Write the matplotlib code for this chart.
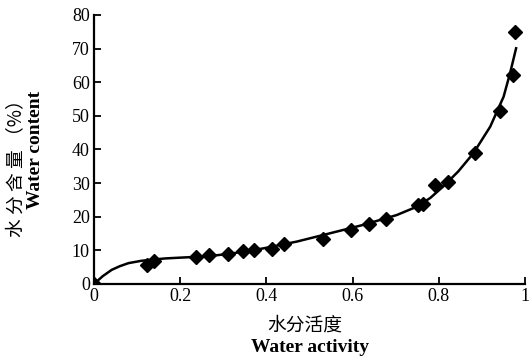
import matplotlib
matplotlib.use("Agg")
import matplotlib.pyplot as plt

# measured points
aw = [0.0, 0.123, 0.14, 0.236, 0.266, 0.31, 0.346, 0.37, 0.412, 0.441, 0.53,
      0.596, 0.638, 0.677, 0.752, 0.764, 0.79, 0.82, 0.884, 0.942, 0.971, 0.977]
wc = [0.0, 5.7, 6.9, 7.9, 8.5, 8.8, 9.8, 10.1, 10.4, 11.9, 13.4,
      16.1, 17.9, 19.2, 23.4, 23.8, 29.5, 30.2, 38.9, 51.3, 62.2, 74.9]

# fitted curve
curve_x = [0.0, 0.02, 0.041, 0.06, 0.08, 0.11, 0.14, 0.165, 0.21, 0.26, 0.316, 0.393,
           0.47, 0.548, 0.625, 0.702, 0.749, 0.78, 0.81, 0.845, 0.88, 0.919, 0.95,
           0.965, 0.979]
curve_y = [0.0, 2.3, 4.2, 5.3, 6.2, 6.9, 7.3, 7.6, 7.9, 8.2, 9.0, 10.6,
           12.6, 15.1, 17.6, 20.5, 23.0, 25.6, 29.0, 33.5, 38.9, 46.8, 55.7,
           62.7, 70.1]

xticks = [0, 0.2, 0.4, 0.6, 0.8, 1]
xticklabels = ["0", "0.2", "0.4", "0.6", "0.8", "1"]
yticks = [0, 10, 20, 30, 40, 50, 60, 70, 80]

serif = ["Liberation Serif", "DejaVu Serif"]
cjk = ["Noto Sans CJK SC", "DejaVu Sans"]

fig = plt.figure(figsize=(5.31, 3.57), dpi=100)
ax = fig.add_axes([0.177, 0.2045, 0.812, 0.7535])

ax.plot(curve_x, curve_y, color="black", lw=1.8, zorder=2)
ax.plot(aw, wc, linestyle="none", marker="D", ms=7, color="black", zorder=3)

ax.set_xlim(0, 1)
ax.set_ylim(0, 80)
ax.set_xticks(xticks)
ax.set_xticklabels(xticklabels)
ax.set_yticks(yticks)
for lab in ax.get_xticklabels() + ax.get_yticklabels():
    lab.set_family(serif)
    lab.set_fontsize(13)

ax.tick_params(direction="in", length=5, width=1.3, pad=3)
for s in ["top", "right"]:
    ax.spines[s].set_visible(False)
for s in ["left", "bottom"]:
    ax.spines[s].set_linewidth(1.6)

# axis labels
fig.text(305 / 531, 1 - 325 / 357, "水分活度", family=cjk, fontsize=13.5,
         ha="center", va="center", fontweight="light")
fig.text(310 / 531, 1 - 348 / 357, "Water activity", family=serif, fontsize=14,
         ha="center", va="center", fontweight="bold")
fig.text(17 / 531, 1 - 164 / 357, "水 分 含 量 （%）", family=cjk, fontsize=13.5,
         ha="center", va="center", rotation=90, fontweight="light")
fig.text(35 / 531, 1 - 150 / 357, "Water content", family=serif, fontsize=14,
         ha="center", va="center", rotation=90, fontweight="bold")

fig.savefig("out.png", dpi=100)
